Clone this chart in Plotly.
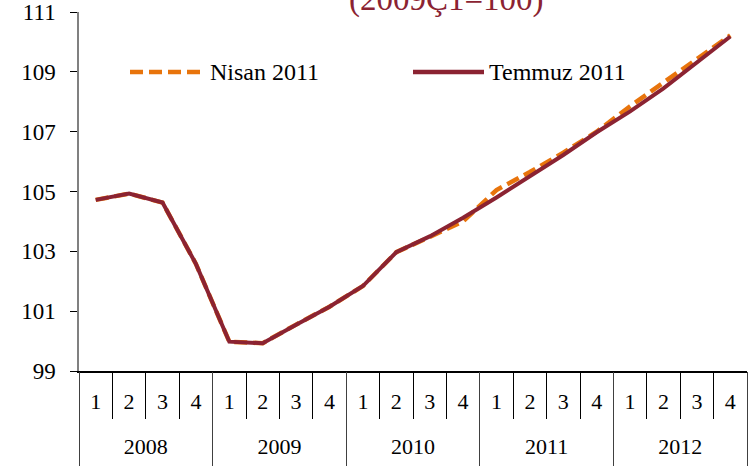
import plotly.graph_objects as go

years = ["2008"] * 4 + ["2009"] * 4 + ["2010"] * 4 + ["2011"] * 4 + ["2012"] * 4
quarters = ["1", "2", "3", "4"] * 5
year_labels = ["2008", "2009", "2010", "2011", "2012"]

nisan_2011 = [104.72, 104.93, 104.63, 102.58, 99.98, 99.93, 100.55, 101.15, 101.84, 102.97,
              103.48, 104.00, 105.05, 105.65, 106.30, 107.00, 107.85, 108.65, 109.45, 110.22]
temmuz_2011 = [104.72, 104.93, 104.63, 102.58, 99.98, 99.93, 100.55, 101.15, 101.84, 102.97,
               103.50, 104.12, 104.80, 105.50, 106.22, 106.98, 107.68, 108.45, 109.30, 110.18]

series_names = ["Nisan 2011", "Temmuz 2011"]
title_text = "(2009Ç1=100)"

categories = [f"{y}-{q}" for y, q in zip(years, quarters)]
n = len(categories)
per_year = 4
year_centers = [i * per_year + (per_year - 1) / 2 for i in range(len(year_labels))]
year_bounds = [i * per_year - 0.5 for i in range(len(year_labels) + 1)]

W, H = 754, 466
L, R, T, B = 79, 7, 12, 95
PW, PH = W - L - R, H - T - B

def px_x(x):
    return (x - L) / PW

def px_y(y):
    return (H - B - y) / PH

FONT = "Liberation Serif"
RED = "#8B2332"
ORANGE = "#E8740C"
NISAN_DASH = "13px,6px"

fig = go.Figure()
fig.add_trace(go.Scatter(
    x=categories, y=nisan_2011, name=series_names[0], mode="lines",
    line=dict(color=ORANGE, width=4.5, dash=NISAN_DASH), showlegend=False,
))
fig.add_trace(go.Scatter(
    x=categories, y=temmuz_2011, name=series_names[1], mode="lines",
    line=dict(color=RED, width=4), showlegend=False,
))
# empty helper trace so the year-label axis is rendered
fig.add_trace(go.Scatter(
    x=year_centers, y=[None] * len(year_centers), xaxis="x2", yaxis="y",
    mode="lines", showlegend=False, hoverinfo="skip",
))

fig.update_layout(
    width=W, height=H,
    margin=dict(l=L, r=R, t=T, b=B, pad=0),
    paper_bgcolor="white", plot_bgcolor="white",
    font=dict(family=FONT, size=22, color="black"),
    showlegend=False,
    xaxis=dict(
        type="category", categoryorder="array", categoryarray=categories,
        range=[-0.5, n - 0.5],
        tickmode="array", tickvals=categories, ticktext=quarters,
        showline=True, linecolor="black", linewidth=1.5,
        ticks="outside", tickson="boundaries", ticklen=46, tickcolor="black", tickwidth=1,
        ticklabelstandoff=10,
        showgrid=False, zeroline=False, automargin=False,
        tickfont=dict(family=FONT, size=22, color="black"),
    ),
    xaxis2=dict(
        type="linear", overlaying="x", anchor="y", side="bottom",
        range=[-0.5, n - 0.5],
        tickmode="array", tickvals=year_centers, ticktext=year_labels,
        ticks="", showline=False, showgrid=False, zeroline=False, automargin=False,
        ticklabelstandoff=60,
        tickfont=dict(family=FONT, size=22, color="black"),
        minor=dict(tickmode="array", tickvals=year_bounds, ticks="outside",
                   ticklen=95, tickcolor="#404040", tickwidth=1, showgrid=False),
    ),
    yaxis=dict(
        range=[99, 111], dtick=2, tick0=99,
        showline=True, linecolor="#808080", linewidth=1.5,
        ticks="outside", ticklen=7, tickcolor="black", tickwidth=1,
        ticklabelstandoff=10,
        showgrid=False, zeroline=False, automargin=False,
        tickfont=dict(family=FONT, size=23, color="black"),
    ),
)

# legend drawn as line samples + labels
legend_items = [
    (series_names[0], ORANGE, NISAN_DASH, 130, 205),
    (series_names[1], RED, "solid", 413, 484),
]
ly = px_y(72)
for name, color, dash, x0, x1 in legend_items:
    fig.add_shape(type="line", xref="paper", yref="paper",
                  x0=px_x(x0), x1=px_x(x1), y0=ly, y1=ly,
                  line=dict(color=color, width=4.5, dash=dash))
    fig.add_annotation(text=name, xref="paper", yref="paper",
                       x=px_x(x1 + 3), y=ly, xanchor="left", yanchor="middle",
                       showarrow=False, font=dict(family=FONT, size=24, color="black"))

fig.add_annotation(
    text=title_text, xref="paper", yref="paper",
    x=px_x(446), y=px_y(20), xanchor="center", yanchor="bottom",
    showarrow=False, font=dict(family=FONT, size=33, color=RED),
)

fig.write_html("out.html", config={"displayModeBar": False},
               post_script="document.body.style.margin='0';")
